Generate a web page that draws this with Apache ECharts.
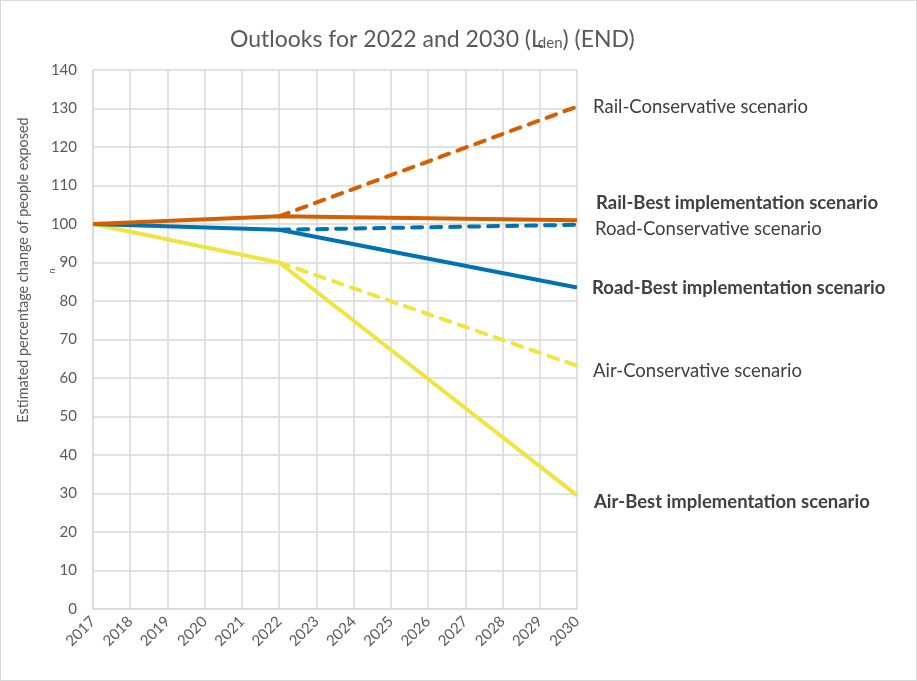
<!DOCTYPE html>
<html>
<head>
<meta charset="utf-8">
<script src="https://cdn.jsdelivr.net/npm/echarts@6/dist/echarts.min.js"></script>
<style>
  html, body { margin: 0; padding: 0; background: #fff; }
  #chart { width: 917px; height: 681px; box-sizing: border-box; border: 1px solid #d9d9d9; }
</style>
</head>
<body>
<div id="chart"></div>
<script>
// Years on the horizontal axis
const years = ['2017','2018','2019','2020','2021','2022','2023','2024','2025','2026','2027','2028','2029','2030'];

// Index of percentage change (2017 = 100); null years are bridged by the line
const railBest  = [100, null, null, null, null, 102.0, null, null, null, null, null, null, null, 101.0];
const railCons  = [null, null, null, null, null, 102.0, null, null, null, null, null, null, null, 130.5];
const roadBest  = [100, null, null, null, null, 98.5, null, null, null, null, null, null, null, 83.5];
const roadCons  = [null, null, null, null, null, 98.5, null, null, null, null, null, null, null, 99.8];
const airBest   = [100, null, null, null, null, 90.0, null, null, null, null, null, null, null, 29.5];
const airCons   = [null, null, null, null, null, 90.0, null, null, null, null, null, null, null, 63.2];

const yTicks = { min: 0, max: 140, interval: 10 };

const FONT = 'Lato, "Open Sans", sans-serif';
const ORANGE = '#D55E00';
const BLUE = '#0072B2';
const YELLOW = '#F0E442';

// Build a line series; the scenario name is written at the end of the line
function makeSeries(name, values, color, dashed, bold, labelOffset) {
  return {
    name: name,
    type: 'line',
    data: values,
    connectNulls: true,
    showSymbol: false,
    symbol: 'none',
    silent: true,
    z: dashed ? 3 : 2,
    lineStyle: {
      color: color,
      width: 4,
      type: dashed ? [10, 9] : 'solid',
      cap: dashed ? 'round' : 'butt',
      join: 'round'
    },
    endLabel: {
      show: true,
      distance: 0,
      offset: labelOffset,
      formatter: name,
      fontFamily: FONT,
      fontSize: 18.5,
      fontWeight: bold ? 'bold' : 'normal',
      color: '#404040'
    },
    labelLayout: { hideOverlap: false }
  };
}

const chart = echarts.init(document.getElementById('chart'), null, { renderer: 'canvas' });

chart.setOption({
  animation: false,
  backgroundColor: '#ffffff',
  title: {
    text: 'Outlooks for 2022 and 2030 (L{sub|den}) (END)',
    left: 224,
    top: 22,
    textStyle: {
      fontFamily: FONT,
      fontSize: 23,
      fontWeight: 'normal',
      color: '#595959',
      rich: {
        sub: { fontFamily: FONT, fontSize: 15, color: '#595959', verticalAlign: 'bottom', padding: [8, 0, 0, -5] }
      }
    }
  },
  grid: { left: 92, right: 339, top: 69, bottom: 71, containLabel: false },
  xAxis: {
    type: 'category',
    data: years,
    boundaryGap: false,
    axisLine: { show: true, lineStyle: { color: '#d9d9d9', width: 1.5 } },
    axisTick: { show: false },
    splitLine: { show: true, lineStyle: { color: '#d9d9d9', width: 1.5 } },
    axisLabel: {
      interval: 0,
      rotate: 45,
      margin: 10,
      fontFamily: FONT,
      fontSize: 15,
      color: '#595959'
    }
  },
  yAxis: {
    type: 'value',
    min: yTicks.min,
    max: yTicks.max,
    interval: yTicks.interval,
    axisLine: { show: true, lineStyle: { color: '#d9d9d9', width: 1.5 } },
    axisTick: { show: false },
    splitLine: { show: true, lineStyle: { color: '#d9d9d9', width: 1.5 } },
    axisLabel: {
      margin: 16,
      fontFamily: FONT,
      fontSize: 15,
      color: '#595959'
    }
  },
  graphic: [
    {
      type: 'text',
      x: 22,
      y: 269,
      rotation: Math.PI / 2,
      style: {
        text: 'Estimated percentage change of people exposed',
        fontFamily: FONT,
        fontSize: 14.4,
        fill: '#595959',
        align: 'center',
        verticalAlign: 'middle'
      }
    },
    {
      type: 'text',
      x: 51,
      y: 270,
      rotation: Math.PI / 2,
      style: {
        text: 'n',
        fontFamily: FONT,
        fontSize: 9,
        fill: '#595959',
        align: 'center',
        verticalAlign: 'middle'
      }
    }
  ],
  series: [
    makeSeries('Air-Best implementation scenario', airBest, YELLOW, false, true, [17, 7]),
    makeSeries('Air-Conservative scenario', airCons, YELLOW, true, false, [16, 5]),
    makeSeries('Road-Best implementation scenario', roadBest, BLUE, false, true, [15, 1]),
    makeSeries('Road-Conservative scenario', roadCons, BLUE, true, false, [18, 4]),
    makeSeries('Rail-Best implementation scenario', railBest, ORANGE, false, true, [19, -17]),
    makeSeries('Rail-Conservative scenario', railCons, ORANGE, true, false, [16, 0])
  ]
});
</script>
</body>
</html>
